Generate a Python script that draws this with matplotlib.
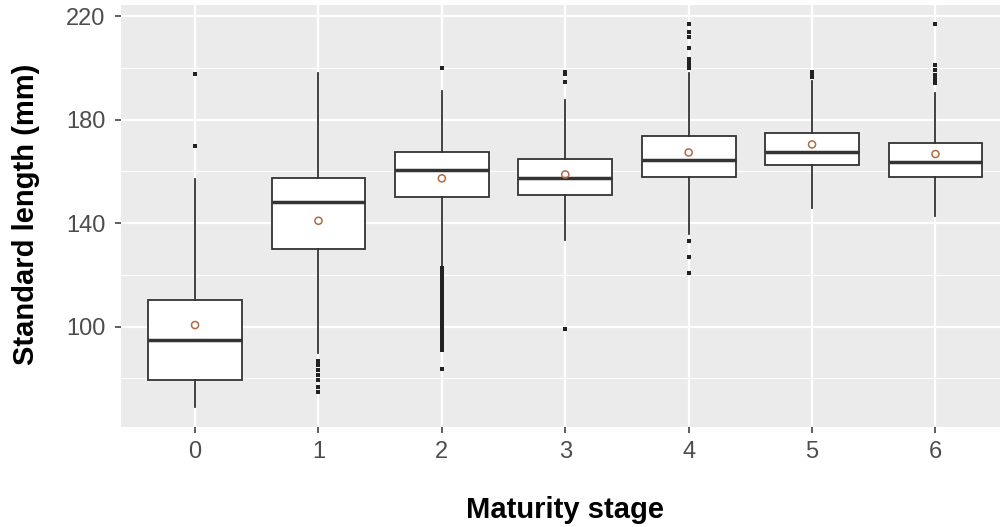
import matplotlib
matplotlib.use("Agg")
import matplotlib.pyplot as plt
from matplotlib.ticker import FixedLocator

plt.rcParams['font.family'] = ['Liberation Sans', 'DejaVu Sans']

# ---- data ----
stages = ['0', '1', '2', '3', '4', '5', '6']
whisker_low = [69.0, 89.6, 123.1, 133.4, 135.6, 145.7, 142.7]
q1 = [79.3, 129.8, 149.9, 150.7, 157.7, 162.4, 157.7]
median = [95.0, 148.0, 160.4, 157.3, 164.2, 167.3, 163.5]
q3 = [110.2, 157.5, 167.6, 164.6, 173.7, 174.7, 170.8]
whisker_high = [156.9, 198.1, 191.1, 187.5, 198.1, 195.0, 190.1]
means = [100.6, 140.9, 157.3, 158.8, 167.3, 170.4, 166.7]

outliers_0 = [197.6, 169.8]
outliers_1 = [86.7, 85.1, 83.2, 81.3, 79.3, 76.7, 74.8]
outliers_2 = [199.8, 122.5, 121.5, 120.0, 118.5, 117.0, 116.0, 115.0, 114.0, 113.0,
              112.0, 111.0, 110.0, 109.0, 108.0, 107.0, 106.0, 105.0, 104.0, 103.0,
              102.0, 101.0, 100.0, 99.0, 98.0, 97.0, 96.0, 95.0, 94.0, 93.0, 92.0, 91.0, 83.6]
outliers_3 = [198.5, 197.5, 194.6, 98.9]
outliers_4 = [216.9, 213.9, 211.8, 207.5, 203.6, 202.6, 201.6, 200.8, 199.8, 133.2, 127.0, 120.8]
outliers_5 = [198.5, 197.5, 196.5]
outliers_6 = [216.9, 201.1, 199.2, 197.3, 196.0, 195.0, 194.1]
outliers = [outliers_0, outliers_1, outliers_2, outliers_3, outliers_4, outliers_5, outliers_6]

y_major = [100, 140, 180, 220]
y_minor = [80, 120, 160, 200]

x_title = 'Maturity stage'
y_title = 'Standard length (mm)'

# ---- figure ----
fig = plt.figure(figsize=(10, 5.27), dpi=100)
ax = fig.add_axes([0.121, 0.1898, 0.8885, 0.8007])
ax.set_facecolor('#EBEBEB')
for s in ax.spines.values():
    s.set_visible(False)

stats = []
for i in range(len(stages)):
    stats.append(dict(whislo=whisker_low[i], q1=q1[i], med=median[i], q3=q3[i],
                      whishi=whisker_high[i], fliers=outliers[i], mean=means[i],
                      label=stages[i]))

pos = list(range(len(stages)))
ax.bxp(stats, positions=pos, widths=0.76, patch_artist=True, showcaps=False,
       showmeans=False, manage_ticks=False,
       boxprops=dict(facecolor='white', edgecolor='#333333', linewidth=1.3),
       medianprops=dict(color='#333333', linewidth=2.5, solid_capstyle='butt'),
       whiskerprops=dict(color='#333333', linewidth=1.3),
       flierprops=dict(marker='s', markersize=2.2, markerfacecolor='#222222',
                       markeredgewidth=0, linestyle='none'),
       zorder=3)

ax.scatter(pos, means, s=26, facecolors='none', edgecolors='#B06A40',
           linewidths=1.1, zorder=5)

ax.set_xlim(-0.6, 6.6)
ax.set_ylim(61.2, 224.3)
ax.set_xticks(pos)
ax.set_xticklabels(stages)
ax.yaxis.set_major_locator(FixedLocator(y_major))
ax.yaxis.set_minor_locator(FixedLocator(y_minor))

ax.grid(which='major', color='white', linewidth=1.6, zorder=0)
ax.grid(which='minor', axis='y', color='white', linewidth=0.8, zorder=0)
ax.set_axisbelow(True)

ax.tick_params(which='major', length=4.3, width=1.1, color='#333333',
               labelcolor='#4D4D4D', labelsize=17)
ax.tick_params(axis='x', which='major', pad=5.5)
ax.tick_params(axis='y', which='major', pad=7)
ax.tick_params(which='minor', length=0)

fig.text(0.5653, 1 - 510 / 527, x_title, ha='center', va='center',
         fontsize=21, fontweight='bold', color='black')
fig.text(0.026, 1 - 214 / 527, y_title, ha='center', va='center', rotation=90,
         fontsize=21, fontweight='bold', color='black')

fig.savefig('out.png', dpi=100)
